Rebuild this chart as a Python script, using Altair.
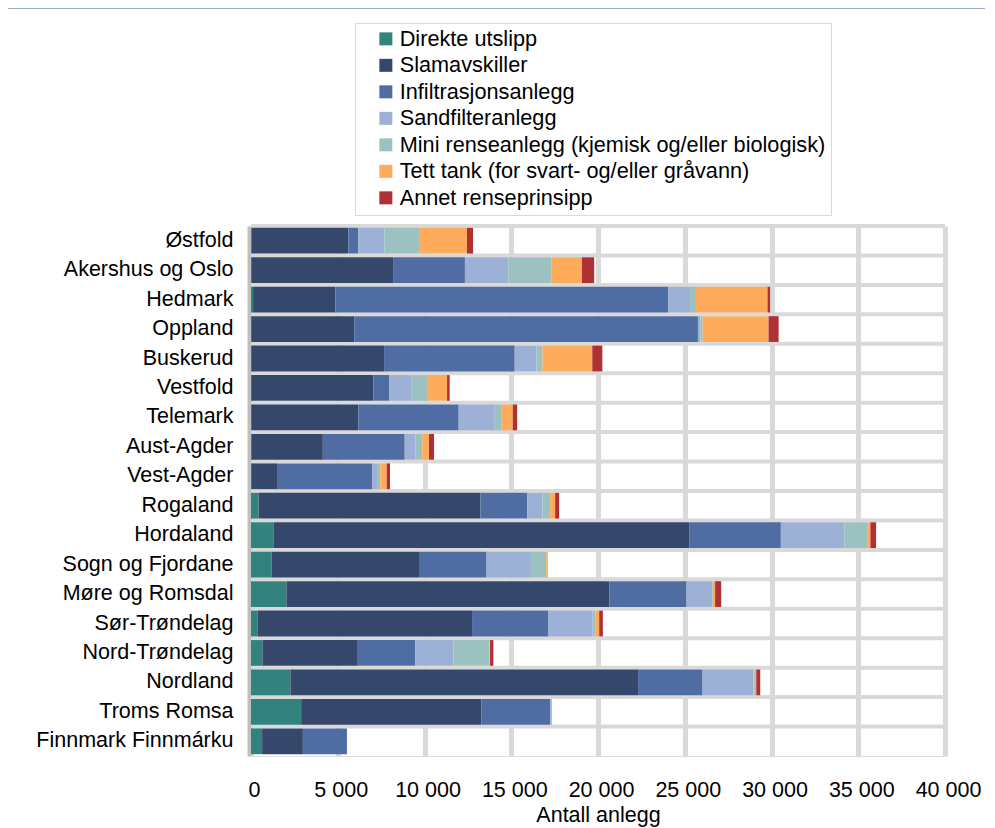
import altair as alt
import pandas as pd

counties = ["Østfold", "Akershus og Oslo", "Hedmark", "Oppland", "Buskerud", "Vestfold",
            "Telemark", "Aust-Agder", "Vest-Agder", "Rogaland", "Hordaland",
            "Sogn og Fjordane", "Møre og Romsdal", "Sør-Trøndelag", "Nord-Trøndelag",
            "Nordland", "Troms Romsa", "Finnmark Finnmárku"]

categories = ["Direkte utslipp", "Slamavskiller", "Infiltrasjonsanlegg", "Sandfilteranlegg",
              "Mini renseanlegg (kjemisk og/eller biologisk)",
              "Tett tank (for svart- og/eller gråvann)", "Annet renseprinsipp"]

direkte = [40, 60, 120, 20, 20, 20, 20, 60, 20, 440, 1290, 1180, 2040, 370, 660, 2270, 2890, 640]
slamavskiller = [5570, 8130, 4740, 5930, 7650, 7030, 6170, 4080, 1480, 12790, 23990, 8550, 18610, 12370, 5450, 20040, 10400, 2350]
infiltrasjon = [580, 4140, 19190, 19810, 7530, 910, 5780, 4720, 5490, 2700, 5260, 3850, 4450, 4410, 3350, 3720, 3950, 2540]
sandfilter = [1500, 2500, 1250, 150, 1250, 1270, 2080, 620, 270, 870, 3660, 2560, 1480, 2540, 2200, 2930, 100, 0]
mini = [1990, 2470, 290, 120, 350, 910, 370, 390, 190, 440, 1310, 870, 40, 150, 2080, 80, 0, 0]
tett_tank = [2770, 1770, 4180, 3800, 2870, 1160, 670, 390, 370, 290, 190, 100, 130, 230, 40, 80, 0, 0]
annet = [350, 710, 150, 580, 580, 150, 250, 290, 190, 230, 330, 0, 350, 210, 190, 230, 0, 0]

colors = ["#32837E", "#35476A", "#4F6CA3", "#9DB0D5", "#9BC2C0", "#FEAC5C", "#AF3133"]
x_ticks = [0, 5000, 10000, 15000, 20000, 25000, 30000, 35000, 40000]

series = [direkte, slamavskiller, infiltrasjon, sandfilter, mini, tett_tank, annet]
rows = []
for ci, (cat, vals) in enumerate(zip(categories, series)):
    for county, v in zip(counties, vals):
        rows.append({"fylke": county, "type": cat, "antall": v, "idx": ci})
df = pd.DataFrame(rows)
df_counties = pd.DataFrame({"fylke": counties})

FONT = "Liberation Sans"

y_scale = alt.Scale(domain=counties, paddingInner=0, paddingOuter=0)
y_axis = alt.Axis(labelFontSize=21.5, labelFont=FONT, labelColor="black",
                  labelPadding=16, ticks=False, grid=False, offset=2,
                  domainColor="#BFBFBF", domainWidth=4, labelLimit=400)

bars = alt.Chart(df).mark_bar(height=alt.RelativeBandSize(0.875)).encode(
    y=alt.Y("fylke:N", sort=counties, scale=y_scale, title=None, axis=y_axis),
    x=alt.X("antall:Q", stack="zero", scale=alt.Scale(domain=[0, 40000], nice=False),
            title="Antall anlegg",
            axis=alt.Axis(values=x_ticks, labelFontSize=21.5, labelFont=FONT, labelColor="black",
                          labelPadding=23, ticks=False, domain=False, grid=True,
                          gridColor="#D9D9D9", gridWidth=5, labelFlush=False,
                          labelOverlap=False, labelOffset=3,
                          labelExpr="replace(format(datum.value, ','), ',', ' ')",
                          titleFontSize=21.5, titleFont=FONT, titleFontWeight="normal",
                          titleColor="black", titlePadding=4)),
    color=alt.Color("type:N", scale=alt.Scale(domain=categories, range=colors),
                    legend=alt.Legend(title=None, orient="none", legendX=104, legendY=-203,
                                      labelFontSize=21.7, labelFont=FONT, labelColor="black",
                                      labelLimit=700, symbolType="square", symbolSize=169,
                                      symbolStrokeWidth=0, symbolOffset=15, padding=5,
                                      rowPadding=3.5, labelOffset=3, strokeColor="#D9D9D9")),
    order=alt.Order("idx:Q", sort="ascending"),
)

separators = alt.Chart(df_counties).mark_rule(color="#D9D9D9", strokeWidth=4).encode(
    y=alt.Y("fylke:N", sort=counties, scale=y_scale, bandPosition=0, title=None, axis=y_axis)
)

top_rule = alt.Chart(pd.DataFrame({"a": [0]})).mark_rule(color="#3F5B8C", strokeWidth=3).encode(
    x=alt.value(-243), x2=alt.value(745), y=alt.value(-219)
)

chart = alt.layer(separators, bars, top_rule).properties(
    width=694, height=530,
    autosize=alt.AutoSizeParams(type="none"),
    padding={"left": 243, "top": 218, "right": 40, "bottom": 72},
).configure_view(stroke="#D9D9D9", strokeWidth=4).configure(font=FONT)

chart.save("out.html", embed_options={"renderer": "svg", "actions": False})
